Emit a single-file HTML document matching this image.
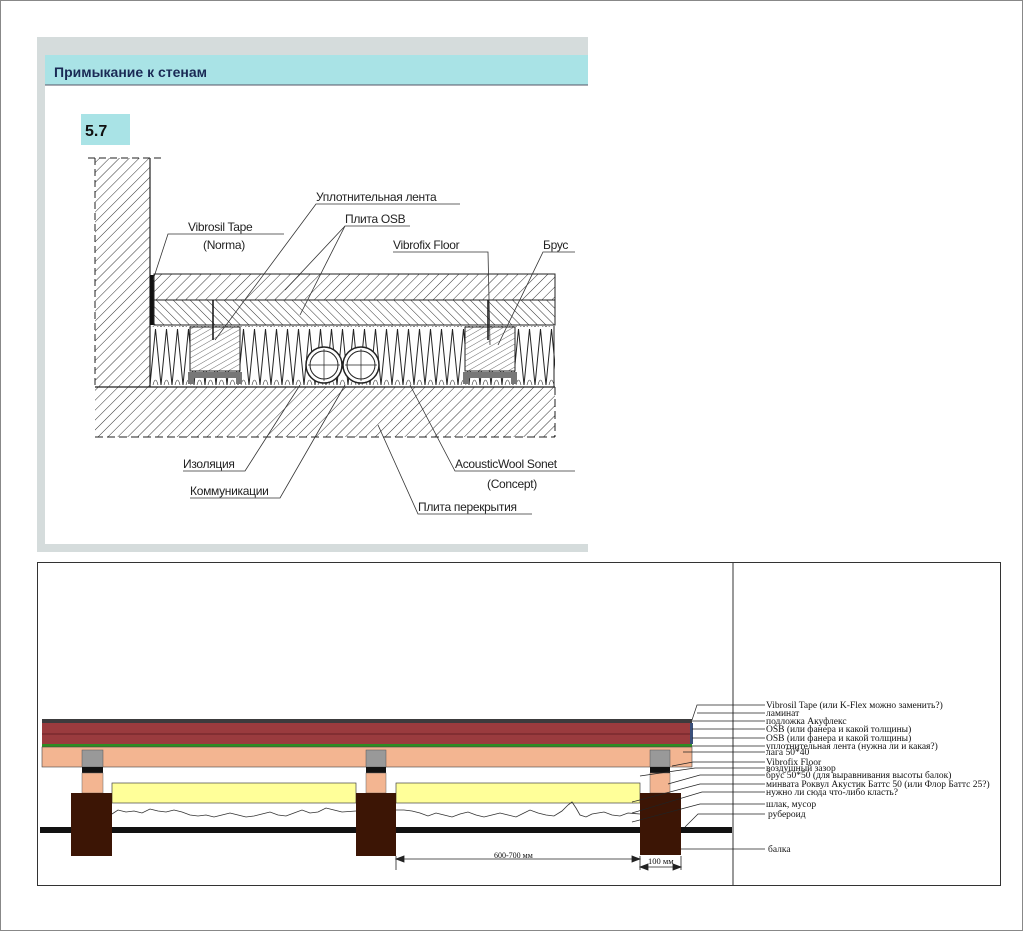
<!DOCTYPE html>
<html><head><meta charset="utf-8"><style>
html,body{margin:0;padding:0;background:#fff;}
svg{display:block;}
.s{font-family:"Liberation Sans",sans-serif;font-size:12px;fill:#222;}
.r{font-family:"Liberation Serif",serif;font-size:9.5px;fill:#111;}
</style></head><body>
<svg width="1024" height="932" viewBox="0 0 1024 932" xmlns="http://www.w3.org/2000/svg">
<defs>
<pattern id="h1" width="7" height="7" patternUnits="userSpaceOnUse" patternTransform="rotate(45)"><line x1="0" y1="0" x2="0" y2="7" stroke="#333" stroke-width="1"/></pattern>
<pattern id="h2" width="6" height="6" patternUnits="userSpaceOnUse" patternTransform="rotate(-45)"><line x1="0" y1="0" x2="0" y2="6" stroke="#333" stroke-width="1"/></pattern>
<pattern id="h3" width="5" height="5" patternUnits="userSpaceOnUse" patternTransform="rotate(60)"><line x1="0" y1="0" x2="0" y2="5" stroke="#444" stroke-width="0.8"/></pattern>
<pattern id="zz" x="150" y="327" width="11" height="58" patternUnits="userSpaceOnUse"><path d="M0,58 L5.5,2 L11,58" fill="none" stroke="#222" stroke-width="1"/><path d="M3,58 Q5.5,48 8,58" fill="none" stroke="#222" stroke-width="0.6"/></pattern>
</defs>
<rect x="0.5" y="0.5" width="1022" height="930" fill="#fff" stroke="#888"/>
<rect x="37" y="37" width="551" height="515" fill="#d5dcdc"/>
<rect x="45" y="55" width="543" height="489" fill="#fff"/>
<rect x="45" y="55" width="543" height="30" fill="#a9e3e6"/>
<line x1="45" y1="85" x2="588" y2="85" stroke="#556" stroke-width="1"/>
<text x="54" y="77" style="font-family:'Liberation Sans',sans-serif;font-size:14px;font-weight:bold;fill:#1a2a55">Примыкание к стенам</text>
<rect x="81" y="114" width="49" height="31" fill="#a9e3e6"/>
<text x="85" y="136" style="font-family:'Liberation Sans',sans-serif;font-size:16px;font-weight:bold;fill:#111">5.7</text>
<rect x="95" y="158" width="55" height="229" fill="url(#h1)"/>
<line x1="150" y1="158" x2="150" y2="387" stroke="#222" stroke-width="1.2"/>
<line x1="88" y1="158" x2="162" y2="158" stroke="#222" stroke-dasharray="7,4"/>
<line x1="95" y1="158" x2="95" y2="387" stroke="#222" stroke-dasharray="7,4"/>
<rect x="150" y="275" width="4" height="50" fill="#111"/>
<rect x="154" y="274" width="401" height="26" fill="url(#h1)" stroke="#222"/>
<rect x="154" y="300" width="401" height="25" fill="url(#h2)" stroke="#222"/>
<rect x="150" y="326" width="405" height="61" fill="url(#zz)"/>
<line x1="554" y1="326" x2="554" y2="387" stroke="#222"/>
<rect x="190" y="327" width="50" height="44" fill="#fff" stroke="#222"/><rect x="190" y="327" width="50" height="44" fill="url(#h3)"/>
<rect x="465" y="327" width="50" height="44" fill="#fff" stroke="#222"/><rect x="465" y="327" width="50" height="44" fill="url(#h3)"/>
<path d="M188,372 h54 v12 h-6 v-6 h-42 v6 h-6z" fill="#777"/>
<path d="M463,372 h54 v12 h-6 v-6 h-42 v6 h-6z" fill="#777"/>
<line x1="213" y1="300" x2="213" y2="340" stroke="#111" stroke-width="1.5"/>
<line x1="488" y1="300" x2="488" y2="340" stroke="#111" stroke-width="1.5"/>
<circle cx="324" cy="365" r="18" fill="#fff" stroke="#222" stroke-width="1.5"/><circle cx="324" cy="365" r="14" fill="none" stroke="#222"/>
<line x1="308" y1="365" x2="340" y2="365" stroke="#222" stroke-width="0.7"/><line x1="324" y1="349" x2="324" y2="381" stroke="#222" stroke-width="0.7"/>
<circle cx="361" cy="365" r="18" fill="#fff" stroke="#222" stroke-width="1.5"/><circle cx="361" cy="365" r="14" fill="none" stroke="#222"/>
<line x1="345" y1="365" x2="377" y2="365" stroke="#222" stroke-width="0.7"/><line x1="361" y1="349" x2="361" y2="381" stroke="#222" stroke-width="0.7"/>
<rect x="95" y="387" width="460" height="50" fill="url(#h1)"/>
<line x1="95" y1="387" x2="555" y2="387" stroke="#222" stroke-width="1.2"/>
<line x1="95" y1="437" x2="555" y2="437" stroke="#222" stroke-dasharray="8,4"/>
<line x1="555" y1="387" x2="555" y2="437" stroke="#222" stroke-dasharray="8,4"/>
<g class="s" style="letter-spacing:-0.3px">
<text x="316" y="201">Уплотнительная лента</text>
<text x="345" y="223">Плита OSB</text>
<text x="188" y="231">Vibrosil Tape</text>
<text x="203" y="249">(Norma)</text>
<text x="393" y="249">Vibrofix Floor</text>
<text x="543" y="249">Брус</text>
<text x="183" y="468">Изоляция</text>
<text x="190" y="495">Коммуникации</text>
<text x="455" y="468">AcousticWool Sonet</text>
<text x="487" y="488">(Concept)</text>
<text x="418" y="511">Плита перекрытия</text>
</g>
<g stroke="#333" stroke-width="0.8" fill="none">
<polyline points="460,204 316,204 215,340"/>
<polyline points="410,226 345,226 285,290"/>
<line x1="345" y1="226" x2="300" y2="315"/>
<polyline points="284,234 168,234 153,280"/>
<polyline points="470,252 393,252 488,252 490,345"/>
<polyline points="575,252 543,252 498,345"/>
<polyline points="183,471 245,471 300,385"/>
<polyline points="190,498 280,498 345,385"/>
<polyline points="575,471 455,471 410,385"/>
<polyline points="532,514 418,514 378,425"/>
</g>
<rect x="37.5" y="562.5" width="963" height="323" fill="none" stroke="#333"/>
<line x1="733" y1="562" x2="733" y2="886" stroke="#333"/>
<rect x="42" y="719" width="650" height="4" fill="#3c3b3d"/>
<rect x="42" y="723" width="650" height="21" fill="#9a3b3e"/>
<line x1="42" y1="734" x2="692" y2="734" stroke="#6a2226" stroke-width="1"/>
<rect x="42" y="744" width="650" height="3" fill="#2e8c22"/>
<rect x="42" y="747" width="650" height="20" fill="#f3b591" stroke="#444" stroke-width="0.6"/>
<rect x="690" y="723" width="3" height="21" fill="#3a4f7a"/>
<g>
<rect x="82" y="750" width="21" height="17" fill="#999" stroke="#555" stroke-width="0.5"/><rect x="82" y="767" width="21" height="6" fill="#111"/><rect x="82" y="773" width="21" height="20" fill="#f3b591" stroke="#666" stroke-width="0.5"/>
<rect x="366" y="750" width="20" height="17" fill="#999" stroke="#555" stroke-width="0.5"/><rect x="366" y="767" width="20" height="6" fill="#111"/><rect x="366" y="773" width="20" height="20" fill="#f3b591" stroke="#666" stroke-width="0.5"/>
<rect x="650" y="750" width="20" height="17" fill="#999" stroke="#555" stroke-width="0.5"/><rect x="650" y="767" width="20" height="6" fill="#111"/><rect x="650" y="773" width="20" height="20" fill="#f3b591" stroke="#666" stroke-width="0.5"/>
</g>
<rect x="112" y="783" width="244" height="20" fill="#ffff99" stroke="#444" stroke-width="0.7"/>
<rect x="396" y="783" width="244" height="20" fill="#ffff99" stroke="#444" stroke-width="0.7"/>
<rect x="40" y="827" width="692" height="6" fill="#111"/>
<polyline points="112,814 118,810 126,812 134,811 142,813 150,809 158,811 166,812 174,810 182,812 190,815 198,816 206,815 214,817 222,815 230,813 238,815 246,817 254,816 262,814 270,812 278,815 286,816 294,813 302,810 310,813 318,812 326,808 334,810 342,812 356,811" fill="none" stroke="#333" stroke-width="0.8"/>
<polyline points="396,810 404,810 412,811 420,813 428,816 436,813 444,815 452,817 460,814 468,812 476,815 484,817 492,815 500,813 508,815 516,817 524,813 530,810 538,813 546,815 554,816 562,811 568,805 572,802 576,808 580,815 586,817 592,814 598,813 604,812 612,815 620,816 628,813 640,814" fill="none" stroke="#333" stroke-width="0.8"/>
<rect x="71" y="793" width="41" height="63" fill="#3c1505"/>
<rect x="356" y="793" width="40" height="63" fill="#3c1505"/>
<rect x="640" y="793" width="41" height="62" fill="#3c1505"/>
<g stroke="#222" stroke-width="0.8" fill="#222">
<line x1="396" y1="856" x2="396" y2="870"/><line x1="640" y1="856" x2="640" y2="870"/><line x1="681" y1="856" x2="681" y2="870"/>
<line x1="396" y1="859" x2="640" y2="859"/>
<path d="M396,859 l8,-3 v6z"/><path d="M640,859 l-8,-3 v6z"/>
<line x1="640" y1="867" x2="681" y2="867"/>
<path d="M640,867 l8,-3 v6z"/><path d="M681,867 l-8,-3 v6z"/>
</g>
<text x="494" y="858" class="r" style="font-size:8px">600-700 мм</text>
<text x="648" y="864" class="r" style="font-size:8.5px">100 мм</text>
<g stroke="#222" stroke-width="0.7" fill="none">
<polyline points="765,705 697,705 692,720"/>
<line x1="697" y1="713" x2="765" y2="713"/>
<line x1="692" y1="721" x2="765" y2="721"/>
<line x1="692" y1="729" x2="765" y2="729"/>
<line x1="692" y1="738" x2="765" y2="738"/>
<line x1="692" y1="746" x2="765" y2="746"/>
<line x1="683" y1="752" x2="765" y2="752"/>
<polyline points="765,762 693,762 672,766"/>
<polyline points="765,768 695,768 640,776"/>
<polyline points="765,775 700,775 668,784"/>
<polyline points="765,784 700,784 632,802"/>
<polyline points="765,792 702,792 632,813"/>
<polyline points="765,804 700,804 632,822"/>
<polyline points="765,814 698,814 685,827"/>
<line x1="681" y1="849" x2="765" y2="849"/>
</g>
<g class="r">
<text x="766" y="708">Vibrosil Tape (или K-Flex можно заменить?)</text>
<text x="766" y="716">ламинат</text>
<text x="766" y="724">подложка Акуфлекс</text>
<text x="766" y="732">OSB (или фанера и какой толщины)</text>
<text x="766" y="741">OSB (или фанера и какой толщины)</text>
<text x="766" y="749">уплотнительная лента (нужна ли и какая?)</text>
<text x="766" y="755">лага 50*40</text>
<text x="766" y="765">Vibrofix Floor</text>
<text x="766" y="771">воздушный зазор</text>
<text x="766" y="778">брус 50*50 (для выравнивания высоты балок)</text>
<text x="766" y="787">минвата Роквул Акустик Баттс 50 (или Флор Баттс 25?)</text>
<text x="766" y="795">нужно ли сюда что-либо класть?</text>
<text x="766" y="807">шлак, мусор</text>
<text x="768" y="817">рубероид</text>
<text x="768" y="852">балка</text>
</g>
</svg>
</body></html>
